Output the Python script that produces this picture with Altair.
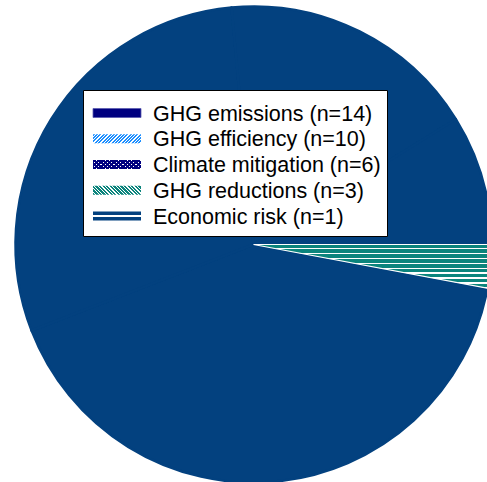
import math
import altair as alt
import pandas as pd

# Categories and their counts (n), in legend order
categories = ["GHG emissions", "GHG efficiency", "Climate mitigation", "GHG reductions", "Economic risk"]
counts = [14, 10, 6, 3, 1]
# Clockwise drawing order of the slices, starting at 3 o'clock
slice_order = [1, 2, 3, 4, 0]

total = sum(counts)
df = pd.DataFrame({"cat": categories, "n": counts, "pie_order": slice_order})

PIE_BLUE = "#03417f"
NAVY = "#000080"
TEAL = "#0b847c"
SKY = "#1e8fff"
CLEAR = "rgba(255,255,255,0)"


def stripe_stops(base, line, periods, line_frac):
    stops = []
    for k in range(periods):
        a = k / periods
        b = (k + 1) / periods
        m = a + (1 - line_frac) / periods
        stops += [
            alt.GradientStop(color=base, offset=a),
            alt.GradientStop(color=base, offset=m),
            alt.GradientStop(color=line, offset=m),
            alt.GradientStop(color=line, offset=b),
        ]
    return stops


SW_W, SW_H = 48.0, 9.0


def diag(base, line, periods, line_frac, forward=True):
    # 45-degree stripes inside a SW_W x SW_H box (bounding-box gradient units)
    k = (SW_W + SW_H) / (SW_W ** 2 + SW_H ** 2)
    dx, dy = SW_W * k, SW_H * k
    if forward:
        x1, y1, x2, y2 = 0, 0, dx, dy
    else:
        x1, y1, x2, y2 = 0, 1, dx, 1 - dy
    return alt.LinearGradient(gradient="linear", stops=stripe_stops(base, line, periods, line_frac),
                              x1=x1, y1=y1, x2=x2, y2=y2)


def horiz(base, line, periods, line_frac):
    return alt.LinearGradient(gradient="linear", stops=stripe_stops(base, line, periods, line_frac),
                              x1=0, y1=0, x2=0, y2=1)


# ---- pie ----
CX, CY, R = 253.5, 244.5, 239

stacked = alt.Chart(df).transform_window(
    t1="sum(n)", sort=[alt.SortField("pie_order")], frame=[None, 0]
).transform_calculate(t0="datum.t1 - datum.n")

theta = alt.Theta("t0:Q", scale=alt.Scale(domain=[0, total], range=[math.pi / 2, math.pi / 2 + 2 * math.pi]))

# same-colour stroke hides the seams between neighbouring slices
pie = stacked.mark_arc(radius=R - 1, fill=PIE_BLUE, stroke=PIE_BLUE, strokeWidth=2.5, strokeJoin="round").encode(
    theta=theta, theta2="t1:Q", x=alt.value(CX), y=alt.value(CY)
)

wedge = stacked.transform_filter(alt.datum.cat == "Economic risk").mark_arc(
    radius=R, fill=horiz(TEAL, "white", 9, 0.28), stroke="white", strokeWidth=1.2
).encode(theta=theta, theta2="t1:Q", x=alt.value(CX), y=alt.value(CY))

# ---- legend ----
box = alt.Chart(alt.Data(values=[{"k": 1}])).mark_rect(
    fill="white", stroke="black", strokeWidth=1
).encode(x=alt.value(83.5), x2=alt.value(387.5), y=alt.value(90.5), y2=alt.value(236.5))

step = 25.75
y_enc = alt.Y("cat:N", axis=None,
              scale=alt.Scale(domain=categories, range=[113 - step / 2, 113 - step / 2 + step * 5],
                              paddingInner=1 - SW_H / step, paddingOuter=(1 - SW_H / step) / 2))

legend_base = alt.Chart(df)


def swatch(cat, fill, **kw):
    return legend_base.transform_filter(alt.datum.cat == cat).mark_rect(fill=fill, **kw).encode(
        x=alt.value(93), x2=alt.value(93 + SW_W), y=y_enc
    )


swatches = [
    swatch("GHG emissions", NAVY, stroke="#5b5bb0", strokeWidth=0.8),
    swatch("GHG efficiency", diag(SKY, "white", 17, 0.4, forward=True)),
    swatch("Climate mitigation", "white"),
    swatch("Climate mitigation", diag(NAVY, CLEAR, 13, 0.3, forward=True)),
    swatch("Climate mitigation", diag(NAVY, CLEAR, 13, 0.3, forward=False)),
    swatch("GHG reductions", diag(TEAL, "white", 16, 0.35, forward=False)),
    swatch("Economic risk", alt.LinearGradient(
        gradient="linear", x1=0, y1=0, x2=0, y2=1,
        stops=[alt.GradientStop(color=PIE_BLUE, offset=0), alt.GradientStop(color=PIE_BLUE, offset=0.42),
               alt.GradientStop(color="white", offset=0.42), alt.GradientStop(color="white", offset=0.58),
               alt.GradientStop(color=PIE_BLUE, offset=0.58), alt.GradientStop(color=PIE_BLUE, offset=1)])),
]

labels = legend_base.transform_calculate(
    label="datum.cat + ' (n=' + datum.n + ')'"
).mark_text(align="left", baseline="middle", font="Liberation Sans", fontSize=21.5, dy=1.5, color="black").encode(
    x=alt.value(153), y=y_enc, text="label:N"
)

chart = alt.layer(pie, wedge, box, *swatches, labels).properties(
    width=487, height=482, autosize="none", padding=0
).configure_view(stroke=None)

chart.save("out.html", embed_options={"renderer": "svg", "actions": False})
